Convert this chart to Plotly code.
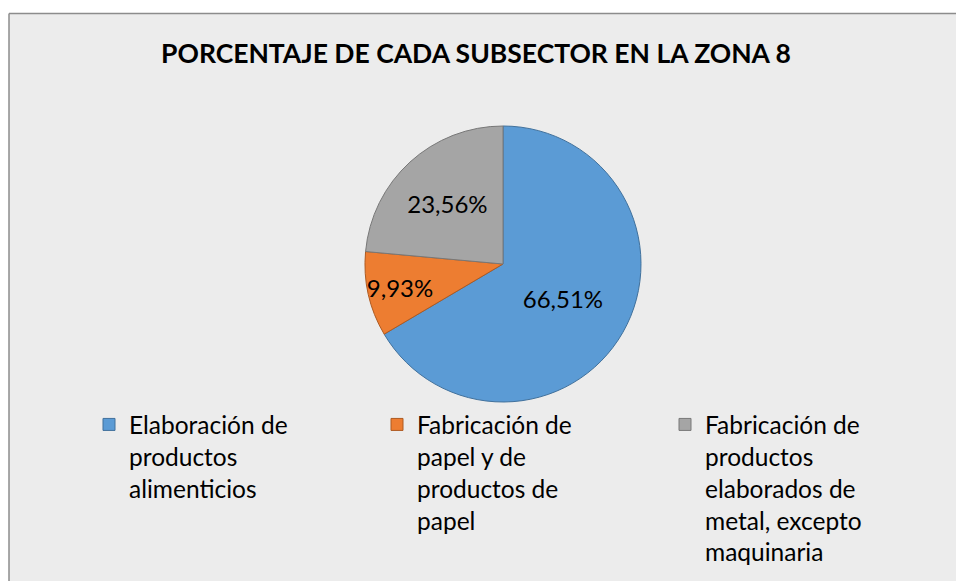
import plotly.graph_objects as go

title_text = "PORCENTAJE DE CADA SUBSECTOR EN LA ZONA 8"
categories = [
    "Elaboración de<br>productos<br>alimenticios",
    "Fabricación de<br>papel y de<br>productos de<br>papel",
    "Fabricación de<br>productos<br>elaborados de<br>metal, excepto<br>maquinaria",
]
values = [66.51, 9.93, 23.56]
value_labels = ["66,51%", "9,93%", "23,56%"]
colors = ["#5b9bd5", "#ed7d31", "#a5a5a5"]
edge_colors = ["#41719c", "#ae5a21", "#787878"]

W, H = 956, 581
cx, cy, r = 503, 264, 138
fx0, fy0 = 9, 13.5  # chart frame top-left corner (px)

fig = go.Figure()
fig.add_trace(go.Pie(
    labels=categories,
    values=values,
    text=value_labels,
    textinfo="text",
    textposition="inside",
    insidetextorientation="horizontal",
    textfont=dict(family="Lato", size=24, color="#000000"),
    sort=False,
    direction="clockwise",
    rotation=0,
    marker=dict(colors=colors, line=dict(color=edge_colors, width=1)),
    domain=dict(x=[(cx - r) / W, (cx + r) / W], y=[(H - cy - r) / H, (H - cy + r) / H]),
    hoverinfo="label+text",
))

fig.update_layout(
    width=W, height=H,
    margin=dict(l=0, r=0, t=0, b=0, autoexpand=False),
    paper_bgcolor="#ececec",
    plot_bgcolor="#ececec",
    uniformtext=dict(minsize=24, mode="show"),
    title=dict(text="<b>" + title_text + "</b>", x=476 / W, xanchor="center",
               y=1 - 54 / H, yanchor="middle",
               font=dict(family="Lato", size=26.5, color="#000000")),
    showlegend=True,
    legend=dict(
        orientation="h", x=89 / W, xanchor="left", y=1 - 402 / H, yanchor="top",
        font=dict(family="Lato", size=24.5, color="#000000"),
        entrywidth=243, entrywidthmode="pixels", valign="top",
        bgcolor="rgba(0,0,0,0)", traceorder="normal",
    ),
    shapes=[
        # white page strips outside the chart frame
        dict(type="rect", xref="paper", yref="paper", x0=-0.01, x1=1.01, y0=1 - fy0 / H, y1=1.01,
             line=dict(width=0), fillcolor="#ffffff", layer="below"),
        dict(type="rect", xref="paper", yref="paper", x0=-0.01, x1=fx0 / W, y0=-0.01, y1=1.01,
             line=dict(width=0), fillcolor="#ffffff", layer="below"),
        # frame edges
        dict(type="line", xref="paper", yref="paper", x0=fx0 / W, x1=1.01, y0=1 - fy0 / H, y1=1 - fy0 / H,
             line=dict(color="#8c8c8c", width=1.5), layer="below"),
        dict(type="line", xref="paper", yref="paper", x0=fx0 / W, x1=fx0 / W, y0=-0.01, y1=1 - fy0 / H,
             line=dict(color="#8c8c8c", width=1.5), layer="below"),
    ],
)

fig.write_html(
    "out.html", config={"displayModeBar": False},
    post_script="document.documentElement.style.overflow='hidden';"
                "document.body.style.margin='0';document.body.style.overflow='hidden';",
)
